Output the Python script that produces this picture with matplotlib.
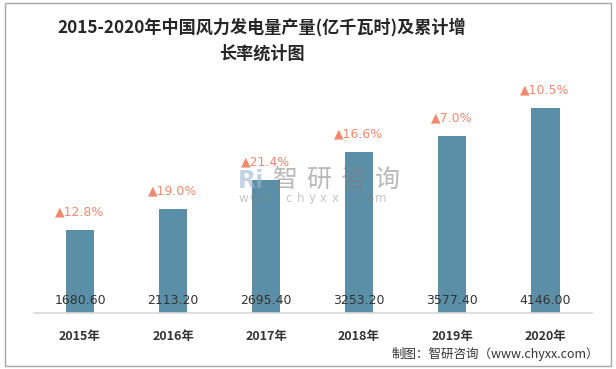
import matplotlib
matplotlib.use("Agg")
import matplotlib.pyplot as plt
from matplotlib.patches import Rectangle

plt.rcParams['font.family'] = ['Noto Sans CJK SC', 'DejaVu Sans']

years = ["2015年", "2016年", "2017年", "2018年", "2019年", "2020年"]
output = [1680.60, 2113.20, 2695.40, 3253.20, 3577.40, 4146.00]
growth = [12.8, 19.0, 21.4, 16.6, 7.0, 10.5]

title = "2015-2020年中国风力发电量产量(亿千瓦时)及累计增\n长率统计图"
source = "制图：智研咨询（www.chyxx.com）"
watermark = "智研咨询"
watermark_url = "www.chyxx.com"

W, H = 616, 369
fig = plt.figure(figsize=(W / 100, H / 100), dpi=100)
ax = fig.add_axes([0.0544, 0.1518, 0.906, 0.604])

x = list(range(len(years)))
bars = ax.bar(x, output, width=0.31, color="#5B8FA7", zorder=2)
ax.set_xlim(-0.5, len(years) - 0.5)
ax.set_ylim(0, 4510)

for s in ["top", "right", "left"]:
    ax.spines[s].set_visible(False)
ax.spines["bottom"].set_color("#D9D9D9")
ax.spines["bottom"].set_linewidth(1.2)
ax.set_yticks([])
ax.set_xticks(x)
ax.set_xticklabels(years, fontsize=9, fontweight="bold", color="#333333")
ax.tick_params(axis="x", length=0, pad=12)

for xi, v, g in zip(x, output, growth):
    ax.annotate(f"{v:.2f}", (xi, 0), xytext=(0, 9), textcoords="offset points",
                ha="center", va="center", fontsize=9, color="#333333",
                family=["DejaVu Sans"], zorder=4)
    ax.annotate(f"▲{g:.1f}%", (xi, v), xytext=(0, 13), textcoords="offset points",
                ha="center", va="center", fontsize=9, color="#F08A6E",
                family=["DejaVu Sans"], zorder=4)

# watermark
for k, ch in enumerate(watermark):
    fig.text((285 + 34 * k) / W, 1 - 180 / H, ch, fontsize=18, color="#7F7F7F",
             alpha=0.55, ha="center", va="center", zorder=10)
for k, ch in enumerate(watermark_url):
    fig.text((243 + 11.5 * k) / W, 1 - 198 / H, ch, fontsize=8.5,
             color="#808080", alpha=0.45, ha="center", va="center", zorder=10,
             family=["DejaVu Sans"])
fig.text(251 / W, 1 - 181 / H, "Ri", fontsize=17, color="#9DB5D0", alpha=0.6,
         ha="center", va="center", fontweight="bold", zorder=10, family=["DejaVu Sans"])

fig.text(262 / W, 1 - 40 / H, title, fontsize=12.3, fontweight="bold", color="#262626",
         ha="center", va="center", linespacing=1.55)
fig.text(0.972, 0.04, source, fontsize=9, color="#333333", ha="right", va="center")

fig.patches.append(Rectangle((0.008, 0.008), 0.984, 0.984, transform=fig.transFigure,
                             fill=False, edgecolor="#A6A6A6", linewidth=1.0))

fig.savefig("out.png", dpi=100)
